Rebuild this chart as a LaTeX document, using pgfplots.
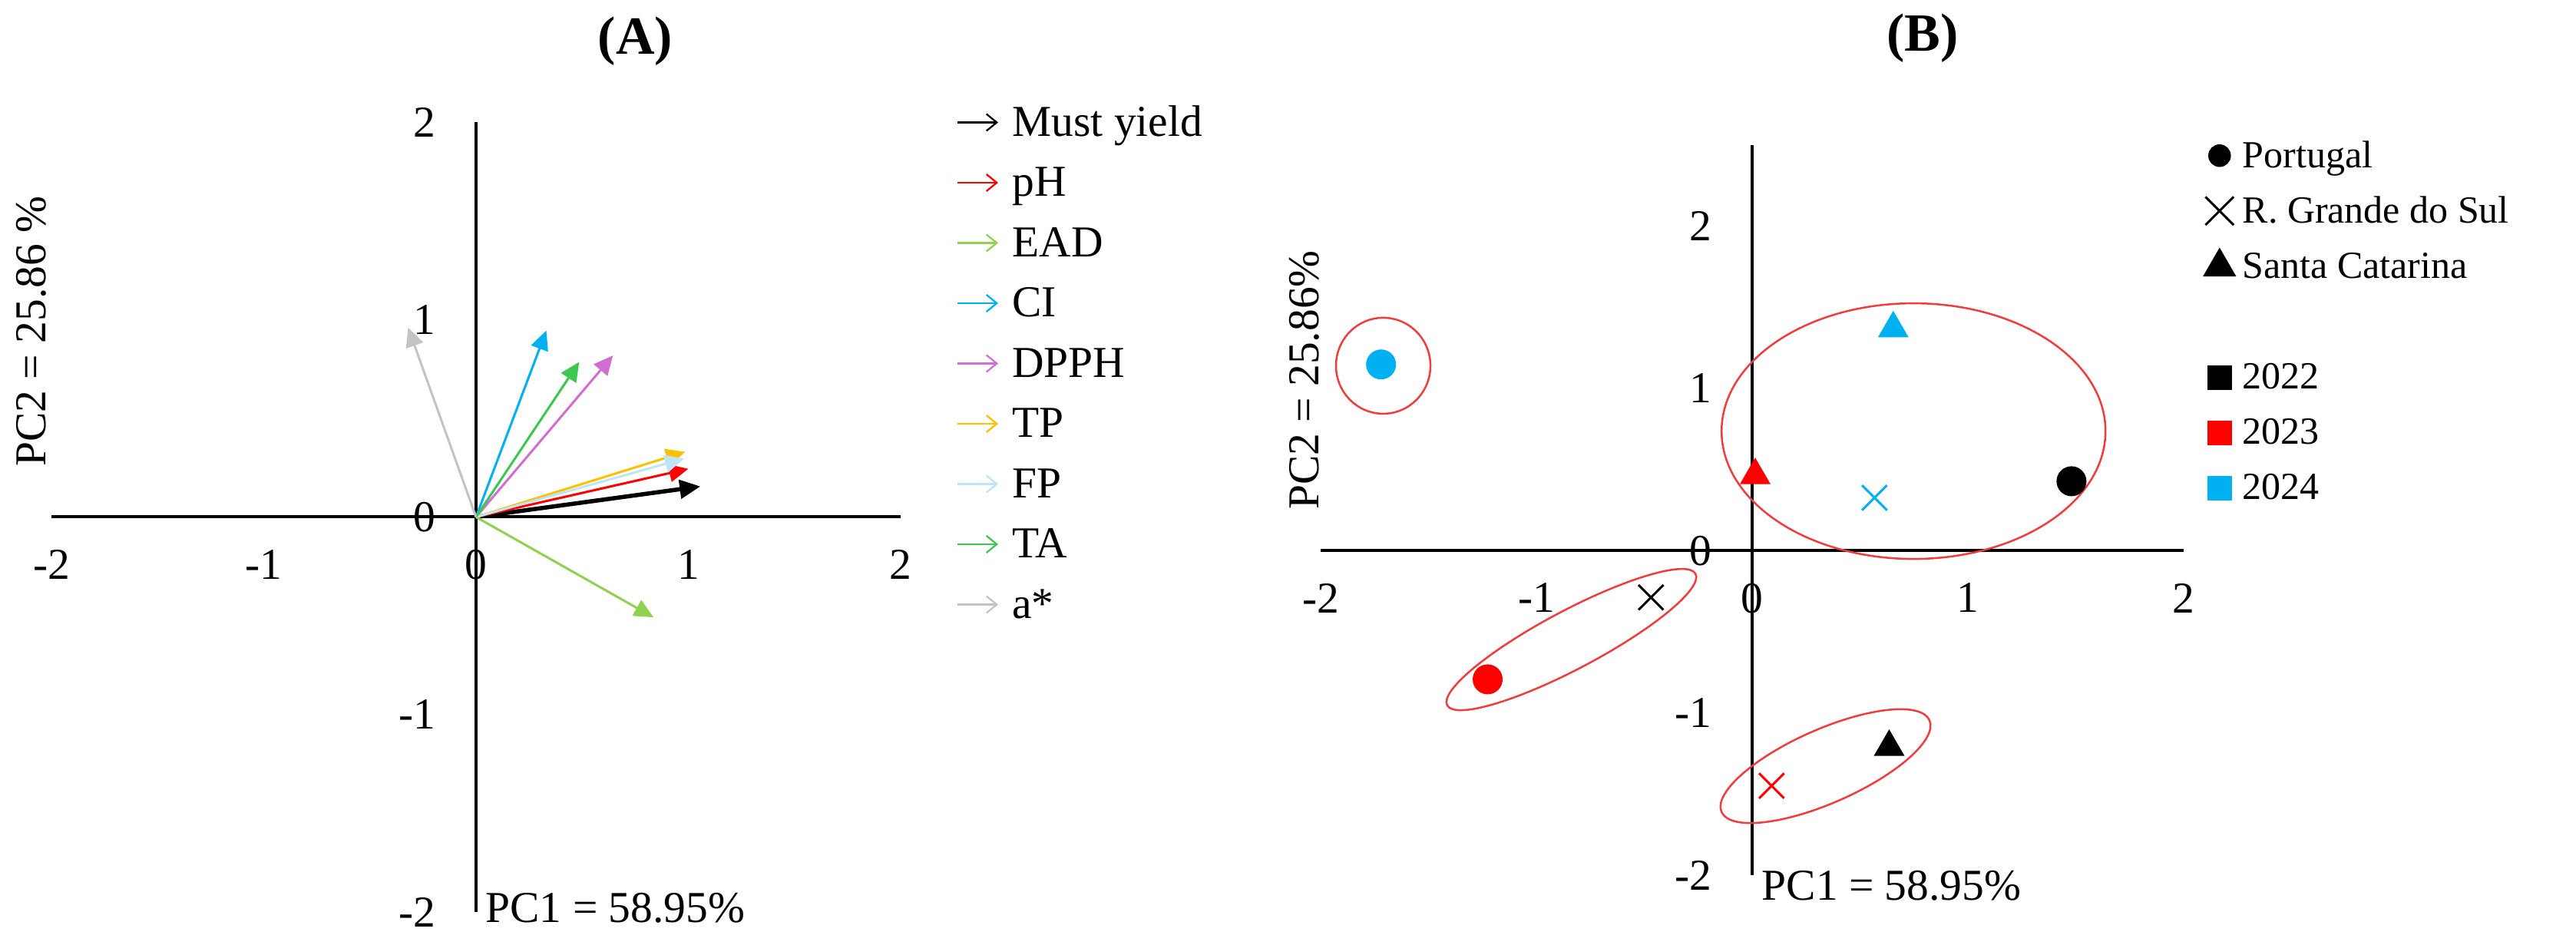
\documentclass[border=0pt]{standalone}
\usepackage{fontspec}
\setmainfont{Liberation Serif}
\usepackage{pgfplots}
\pgfplotsset{compat=1.18}
\usetikzlibrary{arrows.meta}

\definecolor{cEAD}{RGB}{146,208,80}
\definecolor{cCI}{RGB}{0,176,240}
\definecolor{cDPPH}{RGB}{208,110,210}
\definecolor{cTP}{RGB}{255,192,0}
\definecolor{cFP}{RGB}{190,228,245}
\definecolor{cTA}{RGB}{60,200,80}
\definecolor{cAst}{RGB}{195,195,195}
\definecolor{cRed}{RGB}{255,0,0}
\definecolor{cBlue}{RGB}{0,176,240}
\definecolor{cEll}{RGB}{240,60,60}

\pgfplotsset{pcastyle/.style={
  scale only axis, axis lines=middle, axis line style={line width=0.8pt, -},
  major tick length=0pt, hide obscured x ticks=false, hide obscured y ticks=false,
  enlargelimits=false,
  xmin=-2, xmax=2, xtick={-2,-1,0,1,2}, ytick={-2,-1,0,1,2},
  /pgf/number format/assume math mode=true,
  tick label style={font=\fontsize{11.5}{13}\selectfont},
  xticklabel style={anchor=north, yshift=-5pt},
  yticklabel style={anchor=east, xshift=-7pt},
  clip=false,
  anchor=south west,
  legend cell align=left,
}}

\begin{document}
\begin{tikzpicture}
\path (0,0) rectangle (671pt,246pt);

% ---------------- Panel A ----------------
\begin{axis}[pcastyle, at={(13.4pt,8.4pt)}, width=221.2pt, height=205.8pt,
  ymin=-2, ymax=2,
  legend style={at={(1.065,1.0243)}, anchor=north west, draw=none, fill=none,
    inner sep=0pt, row sep=4.7pt, font=\fontsize{11.5}{13}\selectfont,
    nodes={inner xsep=3.4pt, inner ysep=0pt, text height=8.5pt, text depth=2.5pt}},
  legend image code/.code={\draw[#1, line width=0.45pt, arrows=-{Straight Barb[length=2.7pt,width=4.4pt]}] (0pt,0.6pt) -- (10.6pt,0.6pt);},
]
\addplot[black, line width=1.1pt, -{Triangle[length=5.4pt,width=4.8pt]}] coordinates {(0,0) (1.057,0.155)};
\addlegendentry{Must yield}
\addplot[cRed, line width=0.6pt, -{Triangle[length=5pt,width=4.6pt]}] coordinates {(0,0) (1.00,0.244)};
\addlegendentry{pH}
\addplot[cEAD, line width=0.6pt, -{Triangle[length=5pt,width=4.6pt]}] coordinates {(0,0) (0.836,-0.508)};
\addlegendentry{EAD}
\addplot[cCI, line width=0.6pt, -{Triangle[length=5pt,width=4.6pt]}] coordinates {(0,0) (0.331,0.944)};
\addlegendentry{CI}
\addplot[cDPPH, line width=0.6pt, -{Triangle[length=5pt,width=4.6pt]}] coordinates {(0,0) (0.645,0.818)};
\addlegendentry{DPPH}
\addplot[cTP, line width=0.6pt, -{Triangle[length=5pt,width=4.6pt]}] coordinates {(0,0) (0.985,0.33)};
\addlegendentry{TP}
\addplot[cFP, line width=0.6pt, -{Triangle[length=5pt,width=4.6pt]}] coordinates {(0,0) (0.98,0.296)};
\addlegendentry{FP}
\addplot[cTA, line width=0.6pt, -{Triangle[length=5pt,width=4.6pt]}] coordinates {(0,0) (0.486,0.785)};
\addlegendentry{TA}
\addplot[cAst, line width=0.6pt, -{Triangle[length=5pt,width=4.6pt]}] coordinates {(0,0) (-0.32,0.96)};
\addlegendentry{a*}

\node[font=\bfseries\fontsize{14}{17}\selectfont] at (axis cs:0.75,2.41) {(A)};
\node[anchor=west, xshift=-1pt, font=\fontsize{11.5}{13}\selectfont] at (axis cs:0,-1.98) {PC1 = 58.95\%};
\node[rotate=90, font=\fontsize{11.5}{13}\selectfont] at (axis cs:-2.094,0.94) {PC2 = 25.86 \%};
\end{axis}

% ---------------- Panel B ----------------
\begin{axis}[pcastyle, at={(344pt,18pt)}, width=224.8pt, height=190.2pt,
  ymin=-2, ymax=2.5,
  legend style={at={(1.023,1.010)}, anchor=north west, draw=none, fill=none,
    inner sep=0pt, row sep=4.7pt, font=\fontsize{10}{12}\selectfont,
    nodes={inner xsep=2pt, inner ysep=0pt, text height=7.5pt, text depth=2.2pt}},
  legend image code/.code={\draw[#1] plot coordinates {(0pt,0.4pt)};},
]
\addlegendimage{only marks, mark=*, mark size=2.75pt, black}
\addlegendentry{Portugal}
\addlegendimage{only marks, mark=x, mark size=5.2pt, black, mark options={line width=0.6pt}}
\addlegendentry{R. Grande do Sul}
\addlegendimage{only marks, mark=triangle*, mark size=4.6pt, black}
\addlegendentry{Santa Catarina}
\addlegendimage{empty legend}
\addlegendentry{}
\addlegendimage{only marks, mark=square*, mark size=3pt, black}
\addlegendentry{2022}
\addlegendimage{only marks, mark=square*, mark size=3pt, cRed}
\addlegendentry{2023}
\addlegendimage{only marks, mark=square*, mark size=3pt, cBlue}
\addlegendentry{2024}

% Portugal (circles)
\addplot[only marks, mark=*, mark size=3.7pt, black, forget plot] coordinates {(1.48,0.428)};
\addplot[only marks, mark=*, mark size=3.7pt, cRed, forget plot] coordinates {(-1.226,-0.793)};
\addplot[only marks, mark=*, mark size=3.7pt, cBlue, forget plot] coordinates {(-1.72,1.148)};
% R. Grande do Sul (crosses)
\addplot[only marks, mark=x, mark size=4.6pt, black, mark options={line width=0.6pt}, forget plot] coordinates {(-0.469,-0.288)};
\addplot[only marks, mark=x, mark size=4.6pt, cRed, mark options={line width=0.6pt}, forget plot] coordinates {(0.09,-1.449)};
\addplot[only marks, mark=x, mark size=4.6pt, cBlue, mark options={line width=0.6pt}, forget plot] coordinates {(0.567,0.326)};
% Santa Catarina (triangles)
\addplot[only marks, mark=triangle*, mark size=4.2pt, black, forget plot] coordinates {(0.635,-1.21)};
\addplot[only marks, mark=triangle*, mark size=4.2pt, cRed, forget plot] coordinates {(0.014,0.465)};
\addplot[only marks, mark=triangle*, mark size=4.2pt, cBlue, forget plot] coordinates {(0.654,1.37)};

% group ellipses
\draw[cEll, line width=0.5pt] (axis cs:-1.71,1.14) ellipse [x radius=12.3pt, y radius=12.5pt];
\draw[cEll, line width=0.5pt] (axis cs:0.748,0.737) ellipse [x radius=50pt, y radius=33.3pt];
\draw[cEll, line width=0.5pt, rotate around={27.9:(axis cs:-0.838,-0.548)}] (axis cs:-0.838,-0.548) ellipse [x radius=36.6pt, y radius=7.6pt];
\draw[cEll, line width=0.5pt, rotate around={23.8:(axis cs:0.34,-1.328)}] (axis cs:0.34,-1.328) ellipse [x radius=29.6pt, y radius=9.6pt];

\node[font=\bfseries\fontsize{14}{17}\selectfont] at (axis cs:0.79,3.16) {(B)};
\node[anchor=west, xshift=-1pt, font=\fontsize{11.5}{13}\selectfont] at (axis cs:0,-2.066) {PC1 = 58.95\%};
\node[rotate=90, font=\fontsize{11.5}{13}\selectfont] at (axis cs:-2.075,1.052) {PC2 = 25.86\%};
\end{axis}
\end{tikzpicture}
\end{document}
